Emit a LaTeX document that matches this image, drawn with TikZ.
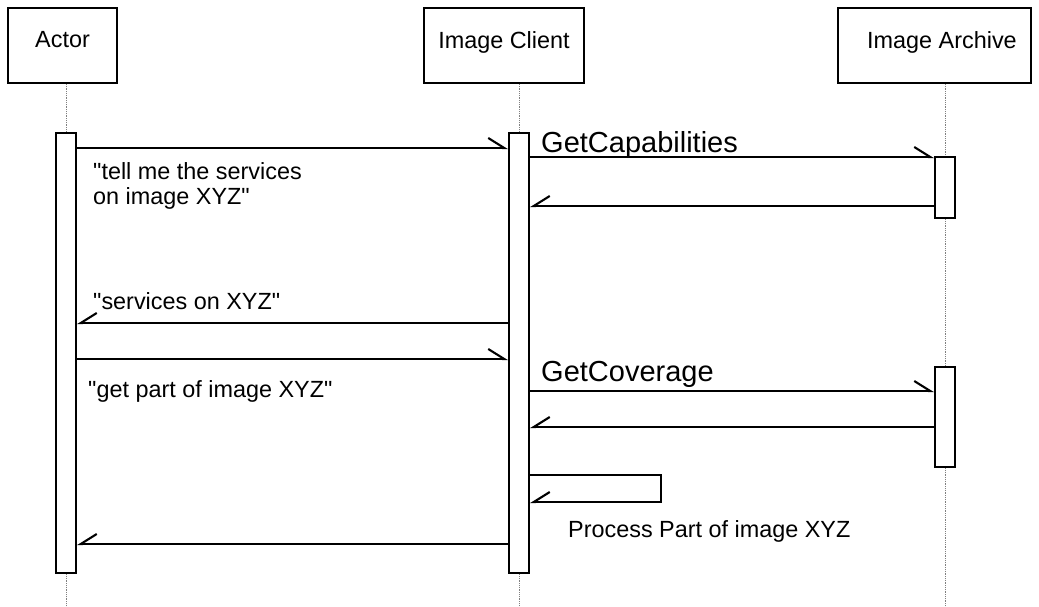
\documentclass[tikz,border=0pt]{standalone}
\usepackage{fontspec}
\setmainfont{Liberation Sans}[Ligatures=TeXOff]
\usetikzlibrary{arrows.meta}
\begin{document}
\begin{tikzpicture}[x=1pt,y=-1pt,
  objbox/.style={draw,line width=2.4pt,rectangle,inner sep=0pt,minimum height=75pt},
  bar/.style={draw,line width=2.2pt,fill=white,rectangle,inner sep=0pt,minimum width=20pt},
  life/.style={draw=gray,line width=0.8pt,densely dotted},
  txt/.style={font=\fontsize{23.4}{25}\selectfont,inner sep=0pt},
  bigtxt/.style={font=\fontsize{29}{30}\selectfont,inner sep=0pt},
  msg/.style={line width=2.1pt,-{Straight Barb[harpoon,length=16pt,width=20pt,line width=2.1pt]}},
  rmsg/.style={line width=2.1pt,-{Straight Barb[harpoon,swap,length=16pt,width=20pt,line width=2.1pt]}}
]
\useasboundingbox (0,0) rectangle (1039,607);
% header boxes
\node[objbox,minimum width=109pt] (actor) at (62.5,45.5) {};
\node[objbox,minimum width=160pt] (client) at (504,45.5) {};
\node[objbox,minimum width=193pt] (archive) at (934.5,45.5) {};
\node[txt] (actorl) at (62.5,40) {Actor};
\node[txt] (clientl) at (504,42) {Image Client};
\node[txt] (archivel) at (942,42) {Image Archive};
% lifelines
\coordinate (aend) at (66,607);
\coordinate (cend) at (519,607);
\coordinate (rend) at (945,607);
\node[bar,minimum height=440pt] (abar) at (66,353) {};
\node[bar,minimum height=440pt] (cbar) at (519,353) {};
\node[bar,minimum height=61pt] (rbar1) at (945,187.5) {};
\node[bar,minimum height=100pt] (rbar2) at (945,417) {};
\draw[life] (66,84) -- (abar.north);
\draw[life] (abar.south) -- (aend);
\draw[life] (519,84) -- (cbar.north);
\draw[life] (cbar.south) -- (cend);
\draw[life] (945,84) -- (rbar1.north);
\draw[life] (rbar1.south) -- (rbar2.north);
\draw[life] (rbar2.south) -- (rend);
% messages
\draw[msg] (abar.east |- 0,148) -- (cbar.west |- 0,148);
\node[txt,anchor=west,align=left] (l1) at (93,186) {"tell me the services\\on image XYZ"};
\draw[msg] (cbar.east |- 0,157) -- (rbar1.west |- 0,157);
\node[bigtxt,anchor=west] (l2) at (541,145) {GetCapabilities};
\draw[rmsg] (rbar1.west |- 0,206) -- (cbar.east |- 0,206);
\draw[rmsg] (cbar.west |- 0,323) -- (abar.east |- 0,323);
\node[txt,anchor=west] (l3) at (93,301) {"services on XYZ"};
\draw[msg] (abar.east |- 0,359) -- (cbar.west |- 0,359);
\node[txt,anchor=west] (l4) at (88,391) {"get part of image XYZ"};
\draw[msg] (cbar.east |- 0,391) -- (rbar2.west |- 0,391);
\node[bigtxt,anchor=west] (l5) at (541,374) {GetCoverage};
\draw[rmsg] (rbar2.west |- 0,427) -- (cbar.east |- 0,427);
\coordinate (selfa) at (661,475);
\coordinate (selfb) at (661,502);
\draw[rmsg] (cbar.east |- 0,475) -- (selfa) -- (selfb) -- (cbar.east |- 0,502);
\node[txt,anchor=west] (l6) at (568,531) {Process Part of image XYZ};
\draw[rmsg] (cbar.west |- 0,544) -- (abar.east |- 0,544);
\end{tikzpicture}
\end{document}
